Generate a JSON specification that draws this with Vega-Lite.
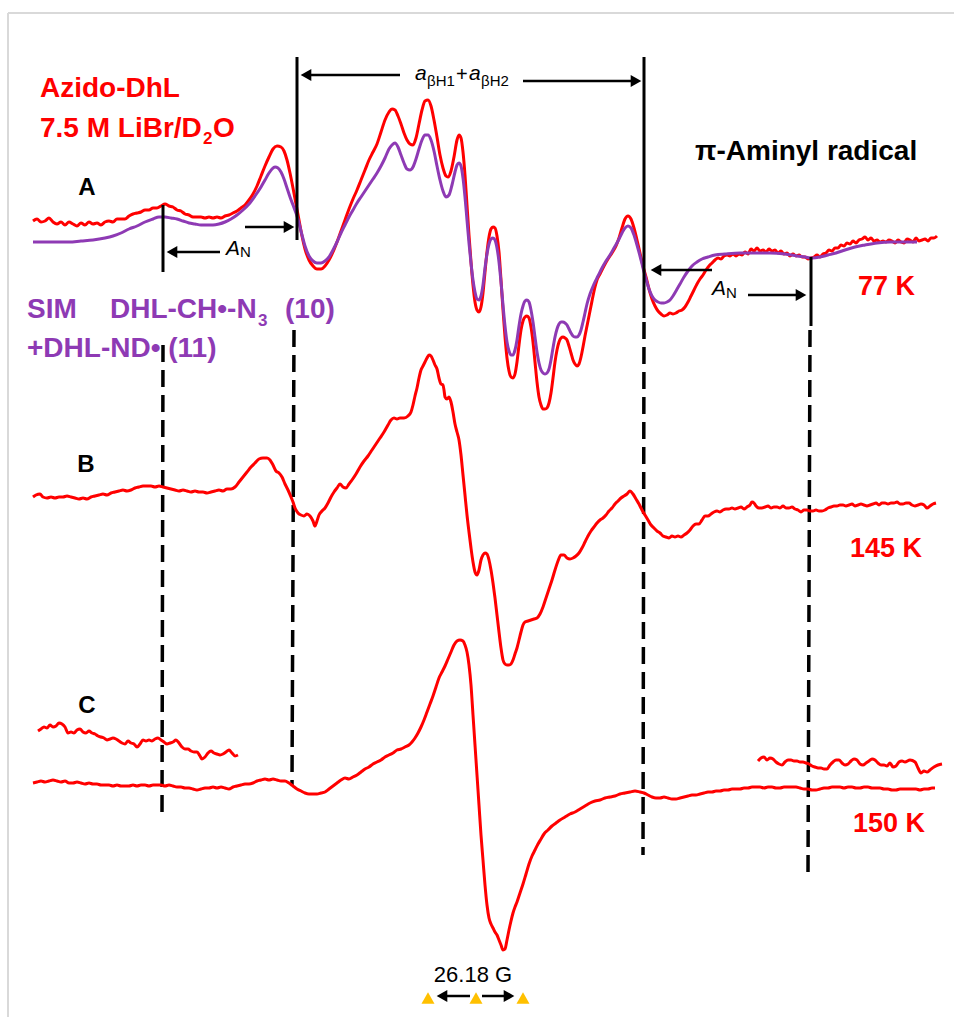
{
"$schema": "https://vega.github.io/schema/vega-lite/v6.json",
"width": 954, "height": 1017, "padding": 0,
"autosize": {"type": "none"},
"background": "white",
"config": {"view": {"stroke": null}},
"datasets": {
"frame": [{"x":8,"x2":954,"y":13,"y2":13},{"x":8,"x2":8,"y":13,"y2":1017}],
"curves": [
{"s":"A","x":33,"y":221},{"s":"A","x":37,"y":219},{"s":"A","x":41,"y":222},{"s":"A","x":45,"y":221},{"s":"A","x":49,"y":218},{"s":"A","x":53,"y":222},{"s":"A","x":57,"y":224},{"s":"A","x":61,"y":222},{"s":"A","x":65,"y":225},{"s":"A","x":69,"y":222},{"s":"A","x":73,"y":224},{"s":"A","x":77,"y":226},{"s":"A","x":81,"y":223},{"s":"A","x":85,"y":225},{"s":"A","x":89,"y":222},{"s":"A","x":93,"y":224},{"s":"A","x":97,"y":223},{"s":"A","x":101,"y":225},{"s":"A","x":105,"y":222},{"s":"A","x":109,"y":221},{"s":"A","x":113,"y":222},{"s":"A","x":117,"y":219},{"s":"A","x":121,"y":219},{"s":"A","x":125,"y":219},{"s":"A","x":129,"y":216},{"s":"A","x":133,"y":214},{"s":"A","x":137,"y":213},{"s":"A","x":141,"y":212},{"s":"A","x":145,"y":210},{"s":"A","x":149,"y":210},{"s":"A","x":153,"y":208},{"s":"A","x":157,"y":208},{"s":"A","x":161,"y":206},{"s":"A","x":165,"y":204},{"s":"A","x":169,"y":206},{"s":"A","x":173,"y":207},{"s":"A","x":177,"y":210},{"s":"A","x":181,"y":211},{"s":"A","x":185,"y":214},{"s":"A","x":189,"y":215},{"s":"A","x":193,"y":217},{"s":"A","x":197,"y":217},{"s":"A","x":201,"y":217},{"s":"A","x":205,"y":218},{"s":"A","x":209,"y":217},{"s":"A","x":213,"y":218},{"s":"A","x":217,"y":217},{"s":"A","x":221,"y":218},{"s":"A","x":225,"y":216},{"s":"A","x":229,"y":215},{"s":"A","x":233,"y":213},{"s":"A","x":237,"y":211},{"s":"A","x":241,"y":208},{"s":"A","x":245,"y":205},{"s":"A","x":249,"y":200},{"s":"A","x":253,"y":194},{"s":"A","x":257,"y":186},{"s":"A","x":261,"y":176},{"s":"A","x":265,"y":166},{"s":"A","x":269,"y":157},{"s":"A","x":273,"y":149},{"s":"A","x":277,"y":146},{"s":"A","x":281,"y":147},{"s":"A","x":284,"y":151},{"s":"A","x":287,"y":160},{"s":"A","x":290,"y":173},{"s":"A","x":293,"y":188},{"s":"A","x":296,"y":204},{"s":"A","x":299,"y":220},{"s":"A","x":302,"y":236},{"s":"A","x":305,"y":249},{"s":"A","x":309,"y":260},{"s":"A","x":313,"y":266},{"s":"A","x":317,"y":269},{"s":"A","x":321,"y":269},{"s":"A","x":325,"y":266},{"s":"A","x":329,"y":260},{"s":"A","x":333,"y":252},{"s":"A","x":337,"y":242},{"s":"A","x":341,"y":231},{"s":"A","x":345,"y":220},{"s":"A","x":349,"y":209},{"s":"A","x":353,"y":199},{"s":"A","x":357,"y":190},{"s":"A","x":361,"y":180},{"s":"A","x":365,"y":170},{"s":"A","x":369,"y":160},{"s":"A","x":373,"y":152},{"s":"A","x":377,"y":144},{"s":"A","x":381,"y":132},{"s":"A","x":385,"y":120},{"s":"A","x":389,"y":112},{"s":"A","x":392,"y":109},{"s":"A","x":395,"y":110},{"s":"A","x":398,"y":116},{"s":"A","x":401,"y":124},{"s":"A","x":404,"y":133},{"s":"A","x":407,"y":140},{"s":"A","x":410,"y":144},{"s":"A","x":413,"y":145},{"s":"A","x":416,"y":138},{"s":"A","x":419,"y":124},{"s":"A","x":422,"y":110},{"s":"A","x":425,"y":101},{"s":"A","x":428,"y":100},{"s":"A","x":431,"y":106},{"s":"A","x":434,"y":120},{"s":"A","x":437,"y":137},{"s":"A","x":440,"y":155},{"s":"A","x":443,"y":168},{"s":"A","x":446,"y":176},{"s":"A","x":448,"y":177},{"s":"A","x":451,"y":171},{"s":"A","x":454,"y":157},{"s":"A","x":457,"y":140},{"s":"A","x":459,"y":135},{"s":"A","x":461,"y":138},{"s":"A","x":463,"y":152},{"s":"A","x":465,"y":175},{"s":"A","x":467,"y":205},{"s":"A","x":469,"y":235},{"s":"A","x":471,"y":262},{"s":"A","x":473,"y":285},{"s":"A","x":475,"y":302},{"s":"A","x":477,"y":310},{"s":"A","x":479,"y":312},{"s":"A","x":481,"y":307},{"s":"A","x":483,"y":293},{"s":"A","x":485,"y":272},{"s":"A","x":487,"y":252},{"s":"A","x":489,"y":237},{"s":"A","x":491,"y":229},{"s":"A","x":493,"y":227},{"s":"A","x":495,"y":228},{"s":"A","x":497,"y":236},{"s":"A","x":499,"y":252},{"s":"A","x":501,"y":280},{"s":"A","x":503,"y":310},{"s":"A","x":505,"y":337},{"s":"A","x":507,"y":358},{"s":"A","x":509,"y":371},{"s":"A","x":511,"y":377},{"s":"A","x":513,"y":378},{"s":"A","x":515,"y":374},{"s":"A","x":517,"y":362},{"s":"A","x":519,"y":345},{"s":"A","x":521,"y":330},{"s":"A","x":523,"y":321},{"s":"A","x":525,"y":317},{"s":"A","x":527,"y":316},{"s":"A","x":529,"y":318},{"s":"A","x":531,"y":327},{"s":"A","x":533,"y":342},{"s":"A","x":535,"y":362},{"s":"A","x":537,"y":382},{"s":"A","x":539,"y":397},{"s":"A","x":541,"y":405},{"s":"A","x":543,"y":409},{"s":"A","x":545,"y":409},{"s":"A","x":547,"y":408},{"s":"A","x":549,"y":403},{"s":"A","x":551,"y":393},{"s":"A","x":553,"y":378},{"s":"A","x":555,"y":362},{"s":"A","x":557,"y":350},{"s":"A","x":559,"y":342},{"s":"A","x":561,"y":338},{"s":"A","x":563,"y":337},{"s":"A","x":565,"y":338},{"s":"A","x":567,"y":340},{"s":"A","x":569,"y":346},{"s":"A","x":571,"y":353},{"s":"A","x":573,"y":360},{"s":"A","x":575,"y":364},{"s":"A","x":577,"y":366},{"s":"A","x":579,"y":364},{"s":"A","x":581,"y":357},{"s":"A","x":583,"y":347},{"s":"A","x":585,"y":336},{"s":"A","x":587,"y":326},{"s":"A","x":589,"y":316},{"s":"A","x":591,"y":306},{"s":"A","x":593,"y":296},{"s":"A","x":595,"y":287},{"s":"A","x":597,"y":280},{"s":"A","x":600,"y":274},{"s":"A","x":604,"y":266},{"s":"A","x":608,"y":259},{"s":"A","x":612,"y":253},{"s":"A","x":616,"y":246},{"s":"A","x":619,"y":238},{"s":"A","x":622,"y":228},{"s":"A","x":625,"y":219},{"s":"A","x":628,"y":216},{"s":"A","x":631,"y":219},{"s":"A","x":634,"y":228},{"s":"A","x":637,"y":240},{"s":"A","x":640,"y":253},{"s":"A","x":643,"y":266},{"s":"A","x":646,"y":277},{"s":"A","x":649,"y":289},{"s":"A","x":652,"y":299},{"s":"A","x":655,"y":306},{"s":"A","x":658,"y":311},{"s":"A","x":661,"y":314},{"s":"A","x":664,"y":316},{"s":"A","x":667,"y":315},{"s":"A","x":670,"y":313},{"s":"A","x":673,"y":314},{"s":"A","x":676,"y":313},{"s":"A","x":679,"y":311},{"s":"A","x":682,"y":310},{"s":"A","x":685,"y":307},{"s":"A","x":688,"y":302},{"s":"A","x":691,"y":296},{"s":"A","x":694,"y":290},{"s":"A","x":697,"y":284},{"s":"A","x":700,"y":279},{"s":"A","x":703,"y":275},{"s":"A","x":706,"y":270},{"s":"A","x":709,"y":266},{"s":"A","x":712,"y":263},{"s":"A","x":715,"y":260},{"s":"A","x":718,"y":258},{"s":"A","x":721,"y":259},{"s":"A","x":724,"y":256},{"s":"A","x":727,"y":255},{"s":"A","x":730,"y":256},{"s":"A","x":733,"y":254},{"s":"A","x":736,"y":256},{"s":"A","x":739,"y":254},{"s":"A","x":742,"y":255},{"s":"A","x":745,"y":252},{"s":"A","x":748,"y":254},{"s":"A","x":751,"y":249},{"s":"A","x":754,"y":251},{"s":"A","x":757,"y":248},{"s":"A","x":760,"y":251},{"s":"A","x":763,"y":250},{"s":"A","x":766,"y":252},{"s":"A","x":769,"y":249},{"s":"A","x":772,"y":251},{"s":"A","x":775,"y":250},{"s":"A","x":778,"y":253},{"s":"A","x":781,"y":251},{"s":"A","x":784,"y":254},{"s":"A","x":787,"y":253},{"s":"A","x":790,"y":256},{"s":"A","x":793,"y":254},{"s":"A","x":796,"y":256},{"s":"A","x":799,"y":255},{"s":"A","x":802,"y":257},{"s":"A","x":805,"y":257},{"s":"A","x":808,"y":259},{"s":"A","x":811,"y":258},{"s":"A","x":814,"y":257},{"s":"A","x":817,"y":255},{"s":"A","x":820,"y":257},{"s":"A","x":823,"y":254},{"s":"A","x":826,"y":253},{"s":"A","x":829,"y":250},{"s":"A","x":832,"y":251},{"s":"A","x":835,"y":248},{"s":"A","x":838,"y":248},{"s":"A","x":841,"y":245},{"s":"A","x":844,"y":246},{"s":"A","x":847,"y":243},{"s":"A","x":850,"y":244},{"s":"A","x":853,"y":241},{"s":"A","x":856,"y":243},{"s":"A","x":859,"y":240},{"s":"A","x":862,"y":239},{"s":"A","x":865,"y":237},{"s":"A","x":868,"y":240},{"s":"A","x":871,"y":238},{"s":"A","x":874,"y":241},{"s":"A","x":877,"y":240},{"s":"A","x":880,"y":242},{"s":"A","x":883,"y":241},{"s":"A","x":886,"y":242},{"s":"A","x":889,"y":240},{"s":"A","x":892,"y":241},{"s":"A","x":895,"y":243},{"s":"A","x":898,"y":240},{"s":"A","x":901,"y":242},{"s":"A","x":904,"y":243},{"s":"A","x":907,"y":239},{"s":"A","x":910,"y":240},{"s":"A","x":913,"y":242},{"s":"A","x":916,"y":238},{"s":"A","x":919,"y":241},{"s":"A","x":922,"y":240},{"s":"A","x":925,"y":239},{"s":"A","x":928,"y":241},{"s":"A","x":931,"y":238},{"s":"A","x":934,"y":238},{"s":"A","x":937,"y":236},
{"s":"B","x":33,"y":497},{"s":"B","x":36,"y":495},{"s":"B","x":40,"y":494},{"s":"B","x":43,"y":497},{"s":"B","x":47,"y":498},{"s":"B","x":51,"y":497},{"s":"B","x":55,"y":498},{"s":"B","x":59,"y":497},{"s":"B","x":63,"y":497},{"s":"B","x":67,"y":496},{"s":"B","x":71,"y":497},{"s":"B","x":75,"y":498},{"s":"B","x":79,"y":499},{"s":"B","x":83,"y":498},{"s":"B","x":87,"y":499},{"s":"B","x":91,"y":497},{"s":"B","x":95,"y":496},{"s":"B","x":99,"y":495},{"s":"B","x":103,"y":494},{"s":"B","x":107,"y":495},{"s":"B","x":111,"y":493},{"s":"B","x":115,"y":492},{"s":"B","x":119,"y":491},{"s":"B","x":123,"y":490},{"s":"B","x":127,"y":491},{"s":"B","x":131,"y":490},{"s":"B","x":135,"y":488},{"s":"B","x":139,"y":487},{"s":"B","x":143,"y":486},{"s":"B","x":147,"y":486},{"s":"B","x":151,"y":486},{"s":"B","x":155,"y":487},{"s":"B","x":159,"y":486},{"s":"B","x":163,"y":487},{"s":"B","x":167,"y":488},{"s":"B","x":171,"y":489},{"s":"B","x":175,"y":490},{"s":"B","x":179,"y":491},{"s":"B","x":183,"y":490},{"s":"B","x":187,"y":491},{"s":"B","x":191,"y":492},{"s":"B","x":195,"y":491},{"s":"B","x":199,"y":492},{"s":"B","x":203,"y":492},{"s":"B","x":207,"y":493},{"s":"B","x":211,"y":492},{"s":"B","x":215,"y":491},{"s":"B","x":219,"y":490},{"s":"B","x":223,"y":491},{"s":"B","x":227,"y":489},{"s":"B","x":231,"y":489},{"s":"B","x":235,"y":487},{"s":"B","x":239,"y":482},{"s":"B","x":243,"y":477},{"s":"B","x":247,"y":472},{"s":"B","x":251,"y":467},{"s":"B","x":255,"y":463},{"s":"B","x":259,"y":459},{"s":"B","x":263,"y":458},{"s":"B","x":267,"y":458},{"s":"B","x":270,"y":460},{"s":"B","x":273,"y":465},{"s":"B","x":276,"y":471},{"s":"B","x":279,"y":473},{"s":"B","x":282,"y":477},{"s":"B","x":285,"y":484},{"s":"B","x":288,"y":490},{"s":"B","x":291,"y":497},{"s":"B","x":293,"y":502},{"s":"B","x":295,"y":508},{"s":"B","x":298,"y":513},{"s":"B","x":301,"y":515},{"s":"B","x":304,"y":516},{"s":"B","x":307,"y":514},{"s":"B","x":310,"y":516},{"s":"B","x":313,"y":521},{"s":"B","x":315,"y":526},{"s":"B","x":317,"y":521},{"s":"B","x":319,"y":515},{"s":"B","x":322,"y":511},{"s":"B","x":325,"y":508},{"s":"B","x":328,"y":503},{"s":"B","x":331,"y":497},{"s":"B","x":334,"y":492},{"s":"B","x":337,"y":488},{"s":"B","x":340,"y":484},{"s":"B","x":343,"y":487},{"s":"B","x":346,"y":488},{"s":"B","x":349,"y":484},{"s":"B","x":352,"y":480},{"s":"B","x":356,"y":474},{"s":"B","x":360,"y":467},{"s":"B","x":364,"y":461},{"s":"B","x":368,"y":456},{"s":"B","x":372,"y":450},{"s":"B","x":376,"y":444},{"s":"B","x":380,"y":438},{"s":"B","x":384,"y":432},{"s":"B","x":388,"y":425},{"s":"B","x":391,"y":420},{"s":"B","x":394,"y":418},{"s":"B","x":397,"y":419},{"s":"B","x":400,"y":418},{"s":"B","x":404,"y":418},{"s":"B","x":408,"y":416},{"s":"B","x":411,"y":412},{"s":"B","x":413,"y":405},{"s":"B","x":415,"y":396},{"s":"B","x":417,"y":388},{"s":"B","x":419,"y":378},{"s":"B","x":421,"y":370},{"s":"B","x":423,"y":366},{"s":"B","x":425,"y":362},{"s":"B","x":427,"y":358},{"s":"B","x":429,"y":355},{"s":"B","x":431,"y":356},{"s":"B","x":433,"y":360},{"s":"B","x":435,"y":365},{"s":"B","x":437,"y":369},{"s":"B","x":439,"y":378},{"s":"B","x":441,"y":384},{"s":"B","x":443,"y":385},{"s":"B","x":444,"y":390},{"s":"B","x":445,"y":397},{"s":"B","x":447,"y":399},{"s":"B","x":449,"y":397},{"s":"B","x":451,"y":402},{"s":"B","x":453,"y":412},{"s":"B","x":455,"y":424},{"s":"B","x":457,"y":432},{"s":"B","x":459,"y":440},{"s":"B","x":461,"y":455},{"s":"B","x":463,"y":475},{"s":"B","x":465,"y":495},{"s":"B","x":467,"y":515},{"s":"B","x":469,"y":532},{"s":"B","x":471,"y":548},{"s":"B","x":473,"y":562},{"s":"B","x":475,"y":572},{"s":"B","x":477,"y":575},{"s":"B","x":479,"y":570},{"s":"B","x":481,"y":560},{"s":"B","x":483,"y":555},{"s":"B","x":485,"y":553},{"s":"B","x":487,"y":554},{"s":"B","x":489,"y":560},{"s":"B","x":491,"y":570},{"s":"B","x":493,"y":583},{"s":"B","x":495,"y":598},{"s":"B","x":497,"y":615},{"s":"B","x":499,"y":632},{"s":"B","x":501,"y":648},{"s":"B","x":503,"y":660},{"s":"B","x":505,"y":664},{"s":"B","x":507,"y":665},{"s":"B","x":509,"y":665},{"s":"B","x":511,"y":664},{"s":"B","x":513,"y":660},{"s":"B","x":515,"y":654},{"s":"B","x":517,"y":648},{"s":"B","x":519,"y":640},{"s":"B","x":521,"y":632},{"s":"B","x":523,"y":625},{"s":"B","x":525,"y":622},{"s":"B","x":528,"y":621},{"s":"B","x":531,"y":620},{"s":"B","x":534,"y":619},{"s":"B","x":537,"y":618},{"s":"B","x":540,"y":614},{"s":"B","x":543,"y":607},{"s":"B","x":546,"y":598},{"s":"B","x":549,"y":589},{"s":"B","x":552,"y":580},{"s":"B","x":555,"y":570},{"s":"B","x":558,"y":561},{"s":"B","x":561,"y":555},{"s":"B","x":564,"y":555},{"s":"B","x":567,"y":558},{"s":"B","x":570,"y":559},{"s":"B","x":573,"y":558},{"s":"B","x":576,"y":556},{"s":"B","x":579,"y":553},{"s":"B","x":582,"y":548},{"s":"B","x":585,"y":542},{"s":"B","x":588,"y":536},{"s":"B","x":591,"y":531},{"s":"B","x":594,"y":527},{"s":"B","x":597,"y":523},{"s":"B","x":600,"y":520},{"s":"B","x":603,"y":518},{"s":"B","x":606,"y":515},{"s":"B","x":609,"y":511},{"s":"B","x":612,"y":508},{"s":"B","x":615,"y":504},{"s":"B","x":618,"y":501},{"s":"B","x":621,"y":498},{"s":"B","x":624,"y":496},{"s":"B","x":627,"y":494},{"s":"B","x":630,"y":491},{"s":"B","x":633,"y":494},{"s":"B","x":636,"y":499},{"s":"B","x":639,"y":504},{"s":"B","x":642,"y":510},{"s":"B","x":645,"y":515},{"s":"B","x":648,"y":520},{"s":"B","x":651,"y":525},{"s":"B","x":654,"y":528},{"s":"B","x":657,"y":531},{"s":"B","x":660,"y":533},{"s":"B","x":663,"y":536},{"s":"B","x":666,"y":537},{"s":"B","x":669,"y":538},{"s":"B","x":672,"y":536},{"s":"B","x":675,"y":537},{"s":"B","x":678,"y":536},{"s":"B","x":681,"y":537},{"s":"B","x":684,"y":535},{"s":"B","x":687,"y":533},{"s":"B","x":690,"y":530},{"s":"B","x":693,"y":526},{"s":"B","x":696,"y":524},{"s":"B","x":699,"y":524},{"s":"B","x":702,"y":520},{"s":"B","x":705,"y":516},{"s":"B","x":708,"y":516},{"s":"B","x":711,"y":514},{"s":"B","x":714,"y":512},{"s":"B","x":717,"y":511},{"s":"B","x":720,"y":512},{"s":"B","x":723,"y":510},{"s":"B","x":726,"y":509},{"s":"B","x":729,"y":509},{"s":"B","x":732,"y":508},{"s":"B","x":735,"y":509},{"s":"B","x":738,"y":508},{"s":"B","x":741,"y":507},{"s":"B","x":744,"y":509},{"s":"B","x":747,"y":507},{"s":"B","x":750,"y":505},{"s":"B","x":752,"y":502},{"s":"B","x":754,"y":503},{"s":"B","x":756,"y":506},{"s":"B","x":759,"y":508},{"s":"B","x":762,"y":508},{"s":"B","x":765,"y":507},{"s":"B","x":768,"y":506},{"s":"B","x":771,"y":508},{"s":"B","x":774,"y":507},{"s":"B","x":777,"y":507},{"s":"B","x":780,"y":508},{"s":"B","x":783,"y":506},{"s":"B","x":786,"y":508},{"s":"B","x":789,"y":508},{"s":"B","x":792,"y":507},{"s":"B","x":795,"y":509},{"s":"B","x":798,"y":510},{"s":"B","x":801,"y":512},{"s":"B","x":804,"y":510},{"s":"B","x":807,"y":510},{"s":"B","x":810,"y":511},{"s":"B","x":813,"y":511},{"s":"B","x":816,"y":510},{"s":"B","x":819,"y":511},{"s":"B","x":822,"y":511},{"s":"B","x":825,"y":510},{"s":"B","x":828,"y":508},{"s":"B","x":831,"y":507},{"s":"B","x":834,"y":506},{"s":"B","x":837,"y":506},{"s":"B","x":840,"y":505},{"s":"B","x":843,"y":505},{"s":"B","x":846,"y":506},{"s":"B","x":849,"y":505},{"s":"B","x":852,"y":504},{"s":"B","x":855,"y":506},{"s":"B","x":858,"y":505},{"s":"B","x":861,"y":504},{"s":"B","x":864,"y":505},{"s":"B","x":867,"y":506},{"s":"B","x":870,"y":505},{"s":"B","x":873,"y":504},{"s":"B","x":876,"y":503},{"s":"B","x":879,"y":505},{"s":"B","x":882,"y":503},{"s":"B","x":885,"y":503},{"s":"B","x":888,"y":504},{"s":"B","x":891,"y":503},{"s":"B","x":894,"y":503},{"s":"B","x":897,"y":502},{"s":"B","x":900,"y":504},{"s":"B","x":903,"y":504},{"s":"B","x":906,"y":503},{"s":"B","x":909,"y":503},{"s":"B","x":912,"y":505},{"s":"B","x":915,"y":506},{"s":"B","x":918,"y":505},{"s":"B","x":921,"y":504},{"s":"B","x":924,"y":505},{"s":"B","x":927,"y":508},{"s":"B","x":930,"y":506},{"s":"B","x":933,"y":504},{"s":"B","x":936,"y":503},
{"s":"C","x":33,"y":783},{"s":"C","x":37,"y":782},{"s":"C","x":41,"y":781},{"s":"C","x":45,"y":782},{"s":"C","x":49,"y":781},{"s":"C","x":53,"y":780},{"s":"C","x":57,"y":781},{"s":"C","x":61,"y":782},{"s":"C","x":65,"y":781},{"s":"C","x":69,"y":783},{"s":"C","x":73,"y":783},{"s":"C","x":77,"y":782},{"s":"C","x":81,"y":783},{"s":"C","x":85,"y":784},{"s":"C","x":89,"y":783},{"s":"C","x":93,"y":784},{"s":"C","x":97,"y":784},{"s":"C","x":101,"y":785},{"s":"C","x":105,"y":785},{"s":"C","x":109,"y":785},{"s":"C","x":113,"y":786},{"s":"C","x":117,"y":785},{"s":"C","x":121,"y":786},{"s":"C","x":125,"y":786},{"s":"C","x":129,"y":786},{"s":"C","x":133,"y":785},{"s":"C","x":137,"y":786},{"s":"C","x":141,"y":785},{"s":"C","x":145,"y":785},{"s":"C","x":149,"y":786},{"s":"C","x":153,"y":785},{"s":"C","x":157,"y":785},{"s":"C","x":161,"y":785},{"s":"C","x":165,"y":786},{"s":"C","x":169,"y":785},{"s":"C","x":173,"y":786},{"s":"C","x":177,"y":787},{"s":"C","x":181,"y":787},{"s":"C","x":185,"y":788},{"s":"C","x":189,"y":788},{"s":"C","x":193,"y":789},{"s":"C","x":197,"y":790},{"s":"C","x":201,"y":789},{"s":"C","x":205,"y":788},{"s":"C","x":209,"y":788},{"s":"C","x":213,"y":787},{"s":"C","x":217,"y":788},{"s":"C","x":221,"y":787},{"s":"C","x":225,"y":788},{"s":"C","x":229,"y":789},{"s":"C","x":233,"y":787},{"s":"C","x":237,"y":786},{"s":"C","x":241,"y":785},{"s":"C","x":245,"y":784},{"s":"C","x":249,"y":784},{"s":"C","x":253,"y":783},{"s":"C","x":257,"y":781},{"s":"C","x":261,"y":780},{"s":"C","x":265,"y":779},{"s":"C","x":269,"y":780},{"s":"C","x":273,"y":779},{"s":"C","x":277,"y":780},{"s":"C","x":281,"y":781},{"s":"C","x":285,"y":781},{"s":"C","x":289,"y":783},{"s":"C","x":293,"y":786},{"s":"C","x":297,"y":789},{"s":"C","x":301,"y":791},{"s":"C","x":305,"y":793},{"s":"C","x":309,"y":794},{"s":"C","x":313,"y":794},{"s":"C","x":317,"y":794},{"s":"C","x":321,"y":793},{"s":"C","x":325,"y":792},{"s":"C","x":329,"y":789},{"s":"C","x":333,"y":786},{"s":"C","x":337,"y":783},{"s":"C","x":341,"y":780},{"s":"C","x":345,"y":778},{"s":"C","x":349,"y":779},{"s":"C","x":353,"y":777},{"s":"C","x":357,"y":775},{"s":"C","x":361,"y":772},{"s":"C","x":365,"y":769},{"s":"C","x":369,"y":767},{"s":"C","x":373,"y":764},{"s":"C","x":377,"y":762},{"s":"C","x":381,"y":760},{"s":"C","x":385,"y":757},{"s":"C","x":389,"y":755},{"s":"C","x":393,"y":753},{"s":"C","x":397,"y":750},{"s":"C","x":401,"y":749},{"s":"C","x":405,"y":747},{"s":"C","x":409,"y":745},{"s":"C","x":412,"y":742},{"s":"C","x":415,"y":738},{"s":"C","x":418,"y":733},{"s":"C","x":421,"y":727},{"s":"C","x":424,"y":720},{"s":"C","x":427,"y":712},{"s":"C","x":430,"y":704},{"s":"C","x":433,"y":696},{"s":"C","x":436,"y":687},{"s":"C","x":439,"y":678},{"s":"C","x":442,"y":672},{"s":"C","x":445,"y":666},{"s":"C","x":448,"y":659},{"s":"C","x":451,"y":652},{"s":"C","x":454,"y":645},{"s":"C","x":457,"y":641},{"s":"C","x":460,"y":640},{"s":"C","x":463,"y":641},{"s":"C","x":465,"y":645},{"s":"C","x":467,"y":652},{"s":"C","x":469,"y":665},{"s":"C","x":471,"y":685},{"s":"C","x":473,"y":715},{"s":"C","x":475,"y":745},{"s":"C","x":477,"y":775},{"s":"C","x":479,"y":805},{"s":"C","x":481,"y":835},{"s":"C","x":483,"y":860},{"s":"C","x":485,"y":885},{"s":"C","x":487,"y":905},{"s":"C","x":489,"y":918},{"s":"C","x":491,"y":924},{"s":"C","x":493,"y":928},{"s":"C","x":495,"y":932},{"s":"C","x":497,"y":935},{"s":"C","x":499,"y":940},{"s":"C","x":501,"y":945},{"s":"C","x":503,"y":950},{"s":"C","x":505,"y":949},{"s":"C","x":507,"y":940},{"s":"C","x":509,"y":930},{"s":"C","x":511,"y":921},{"s":"C","x":513,"y":913},{"s":"C","x":515,"y":907},{"s":"C","x":517,"y":902},{"s":"C","x":520,"y":893},{"s":"C","x":523,"y":884},{"s":"C","x":526,"y":874},{"s":"C","x":529,"y":864},{"s":"C","x":532,"y":856},{"s":"C","x":535,"y":850},{"s":"C","x":538,"y":844},{"s":"C","x":541,"y":839},{"s":"C","x":544,"y":834},{"s":"C","x":548,"y":830},{"s":"C","x":552,"y":826},{"s":"C","x":556,"y":823},{"s":"C","x":560,"y":820},{"s":"C","x":565,"y":817},{"s":"C","x":570,"y":814},{"s":"C","x":575,"y":812},{"s":"C","x":580,"y":809},{"s":"C","x":585,"y":806},{"s":"C","x":590,"y":803},{"s":"C","x":595,"y":801},{"s":"C","x":600,"y":800},{"s":"C","x":605,"y":798},{"s":"C","x":610,"y":797},{"s":"C","x":615,"y":796},{"s":"C","x":620,"y":794},{"s":"C","x":625,"y":793},{"s":"C","x":630,"y":792},{"s":"C","x":635,"y":791},{"s":"C","x":640,"y":792},{"s":"C","x":644,"y":793},{"s":"C","x":648,"y":795},{"s":"C","x":652,"y":797},{"s":"C","x":656,"y":798},{"s":"C","x":660,"y":798},{"s":"C","x":664,"y":797},{"s":"C","x":668,"y":798},{"s":"C","x":672,"y":799},{"s":"C","x":676,"y":799},{"s":"C","x":680,"y":798},{"s":"C","x":684,"y":797},{"s":"C","x":688,"y":796},{"s":"C","x":692,"y":795},{"s":"C","x":696,"y":795},{"s":"C","x":700,"y":794},{"s":"C","x":704,"y":793},{"s":"C","x":708,"y":792},{"s":"C","x":712,"y":792},{"s":"C","x":716,"y":791},{"s":"C","x":720,"y":791},{"s":"C","x":724,"y":790},{"s":"C","x":728,"y":790},{"s":"C","x":732,"y":789},{"s":"C","x":736,"y":789},{"s":"C","x":740,"y":789},{"s":"C","x":744,"y":788},{"s":"C","x":748,"y":788},{"s":"C","x":752,"y":787},{"s":"C","x":756,"y":787},{"s":"C","x":760,"y":787},{"s":"C","x":764,"y":788},{"s":"C","x":768,"y":787},{"s":"C","x":772,"y":787},{"s":"C","x":776,"y":788},{"s":"C","x":780,"y":788},{"s":"C","x":784,"y":787},{"s":"C","x":788,"y":787},{"s":"C","x":792,"y":787},{"s":"C","x":796,"y":787},{"s":"C","x":800,"y":788},{"s":"C","x":804,"y":789},{"s":"C","x":808,"y":789},{"s":"C","x":812,"y":790},{"s":"C","x":816,"y":790},{"s":"C","x":820,"y":789},{"s":"C","x":824,"y":788},{"s":"C","x":828,"y":788},{"s":"C","x":832,"y":787},{"s":"C","x":836,"y":787},{"s":"C","x":840,"y":787},{"s":"C","x":844,"y":788},{"s":"C","x":848,"y":787},{"s":"C","x":852,"y":787},{"s":"C","x":856,"y":788},{"s":"C","x":860,"y":788},{"s":"C","x":864,"y":787},{"s":"C","x":868,"y":787},{"s":"C","x":872,"y":788},{"s":"C","x":876,"y":788},{"s":"C","x":880,"y":788},{"s":"C","x":884,"y":789},{"s":"C","x":888,"y":789},{"s":"C","x":892,"y":790},{"s":"C","x":896,"y":790},{"s":"C","x":900,"y":789},{"s":"C","x":904,"y":789},{"s":"C","x":908,"y":789},{"s":"C","x":912,"y":789},{"s":"C","x":916,"y":789},{"s":"C","x":920,"y":790},{"s":"C","x":924,"y":789},{"s":"C","x":928,"y":789},{"s":"C","x":932,"y":788},{"s":"C","x":935,"y":788},
{"s":"CL","x":38,"y":731},{"s":"CL","x":41,"y":729},{"s":"CL","x":44,"y":727},{"s":"CL","x":47,"y":728},{"s":"CL","x":50,"y":725},{"s":"CL","x":53,"y":727},{"s":"CL","x":56,"y":726},{"s":"CL","x":59,"y":723},{"s":"CL","x":62,"y":724},{"s":"CL","x":65,"y":727},{"s":"CL","x":68,"y":733},{"s":"CL","x":71,"y":732},{"s":"CL","x":74,"y":733},{"s":"CL","x":77,"y":730},{"s":"CL","x":80,"y":729},{"s":"CL","x":83,"y":732},{"s":"CL","x":86,"y":733},{"s":"CL","x":89,"y":731},{"s":"CL","x":92,"y":733},{"s":"CL","x":95,"y":734},{"s":"CL","x":98,"y":736},{"s":"CL","x":101,"y":737},{"s":"CL","x":104,"y":738},{"s":"CL","x":107,"y":740},{"s":"CL","x":110,"y":739},{"s":"CL","x":113,"y":738},{"s":"CL","x":116,"y":739},{"s":"CL","x":119,"y":741},{"s":"CL","x":122,"y":743},{"s":"CL","x":125,"y":744},{"s":"CL","x":128,"y":741},{"s":"CL","x":131,"y":743},{"s":"CL","x":134,"y":744},{"s":"CL","x":137,"y":747},{"s":"CL","x":140,"y":744},{"s":"CL","x":143,"y":740},{"s":"CL","x":146,"y":741},{"s":"CL","x":149,"y":740},{"s":"CL","x":152,"y":741},{"s":"CL","x":155,"y":739},{"s":"CL","x":158,"y":738},{"s":"CL","x":161,"y":740},{"s":"CL","x":164,"y":742},{"s":"CL","x":167,"y":744},{"s":"CL","x":170,"y":743},{"s":"CL","x":173,"y":742},{"s":"CL","x":176,"y":740},{"s":"CL","x":179,"y":743},{"s":"CL","x":182,"y":747},{"s":"CL","x":185,"y":749},{"s":"CL","x":188,"y":749},{"s":"CL","x":191,"y":751},{"s":"CL","x":194,"y":752},{"s":"CL","x":197,"y":752},{"s":"CL","x":200,"y":756},{"s":"CL","x":202,"y":759},{"s":"CL","x":205,"y":757},{"s":"CL","x":208,"y":753},{"s":"CL","x":211,"y":751},{"s":"CL","x":214,"y":753},{"s":"CL","x":217,"y":754},{"s":"CL","x":220,"y":755},{"s":"CL","x":223,"y":754},{"s":"CL","x":226,"y":752},{"s":"CL","x":229,"y":750},{"s":"CL","x":232,"y":753},{"s":"CL","x":235,"y":756},{"s":"CL","x":238,"y":755},
{"s":"CR","x":758,"y":761},{"s":"CR","x":761,"y":758},{"s":"CR","x":764,"y":757},{"s":"CR","x":767,"y":760},{"s":"CR","x":770,"y":758},{"s":"CR","x":773,"y":759},{"s":"CR","x":776,"y":762},{"s":"CR","x":779,"y":764},{"s":"CR","x":782,"y":765},{"s":"CR","x":785,"y":762},{"s":"CR","x":788,"y":760},{"s":"CR","x":791,"y":760},{"s":"CR","x":794,"y":761},{"s":"CR","x":797,"y":761},{"s":"CR","x":800,"y":762},{"s":"CR","x":803,"y":762},{"s":"CR","x":806,"y":763},{"s":"CR","x":809,"y":764},{"s":"CR","x":812,"y":766},{"s":"CR","x":815,"y":767},{"s":"CR","x":818,"y":768},{"s":"CR","x":821,"y":768},{"s":"CR","x":824,"y":769},{"s":"CR","x":827,"y":769},{"s":"CR","x":830,"y":765},{"s":"CR","x":833,"y":762},{"s":"CR","x":836,"y":760},{"s":"CR","x":839,"y":760},{"s":"CR","x":842,"y":763},{"s":"CR","x":845,"y":765},{"s":"CR","x":848,"y":764},{"s":"CR","x":851,"y":761},{"s":"CR","x":854,"y":759},{"s":"CR","x":857,"y":760},{"s":"CR","x":860,"y":764},{"s":"CR","x":863,"y":765},{"s":"CR","x":866,"y":763},{"s":"CR","x":869,"y":761},{"s":"CR","x":872,"y":759},{"s":"CR","x":875,"y":760},{"s":"CR","x":878,"y":763},{"s":"CR","x":881,"y":765},{"s":"CR","x":884,"y":765},{"s":"CR","x":887,"y":766},{"s":"CR","x":890,"y":763},{"s":"CR","x":893,"y":767},{"s":"CR","x":896,"y":766},{"s":"CR","x":899,"y":762},{"s":"CR","x":902,"y":761},{"s":"CR","x":905,"y":762},{"s":"CR","x":910,"y":760},{"s":"CR","x":915,"y":762},{"s":"CR","x":918,"y":768},{"s":"CR","x":921,"y":773},{"s":"CR","x":924,"y":771},{"s":"CR","x":927,"y":772},{"s":"CR","x":930,"y":770},{"s":"CR","x":934,"y":767},{"s":"CR","x":938,"y":765},{"s":"CR","x":942,"y":764}
],
"sim": [
{"x":33,"y":242},{"x":45,"y":242},{"x":57,"y":242},{"x":69,"y":242},{"x":81,"y":241},{"x":93,"y":240},{"x":105,"y":238},{"x":113,"y":236},{"x":121,"y":233},{"x":129,"y":229},{"x":137,"y":226},{"x":145,"y":222},{"x":153,"y":219},{"x":159,"y":217},{"x":165,"y":217},{"x":171,"y":218},{"x":177,"y":219},{"x":183,"y":221},{"x":189,"y":223},{"x":195,"y":224},{"x":201,"y":225},{"x":207,"y":225},{"x":213,"y":225},{"x":219,"y":224},{"x":225,"y":222},{"x":231,"y":219},{"x":237,"y":215},{"x":243,"y":210},{"x":249,"y":204},{"x":255,"y":196},{"x":261,"y":187},{"x":265,"y":180},{"x":269,"y":173},{"x":272,"y":169},{"x":275,"y":167},{"x":278,"y":168},{"x":281,"y":172},{"x":284,"y":179},{"x":287,"y":188},{"x":290,"y":197},{"x":293,"y":205},{"x":296,"y":213},{"x":299,"y":223},{"x":302,"y":235},{"x":305,"y":246},{"x":309,"y":256},{"x":313,"y":261},{"x":317,"y":263},{"x":321,"y":263},{"x":325,"y":261},{"x":329,"y":257},{"x":333,"y":250},{"x":337,"y":242},{"x":341,"y":233},{"x":345,"y":225},{"x":349,"y":217},{"x":353,"y":210},{"x":357,"y":203},{"x":361,"y":197},{"x":365,"y":191},{"x":369,"y":185},{"x":373,"y":179},{"x":377,"y":173},{"x":381,"y":166},{"x":385,"y":158},{"x":389,"y":149},{"x":392,"y":145},{"x":395,"y":143},{"x":398,"y":147},{"x":401,"y":155},{"x":404,"y":163},{"x":407,"y":169},{"x":410,"y":170},{"x":413,"y":167},{"x":416,"y":159},{"x":419,"y":149},{"x":422,"y":140},{"x":425,"y":135},{"x":428,"y":135},{"x":431,"y":140},{"x":434,"y":151},{"x":437,"y":166},{"x":440,"y":180},{"x":443,"y":191},{"x":446,"y":197},{"x":449,"y":195},{"x":452,"y":185},{"x":455,"y":172},{"x":457,"y":165},{"x":459,"y":163},{"x":461,"y":166},{"x":463,"y":178},{"x":465,"y":197},{"x":467,"y":220},{"x":469,"y":243},{"x":471,"y":263},{"x":473,"y":280},{"x":475,"y":292},{"x":477,"y":299},{"x":479,"y":300},{"x":481,"y":296},{"x":483,"y":285},{"x":485,"y":268},{"x":487,"y":254},{"x":489,"y":244},{"x":491,"y":239},{"x":493,"y":238},{"x":495,"y":240},{"x":497,"y":248},{"x":499,"y":262},{"x":501,"y":282},{"x":503,"y":305},{"x":505,"y":326},{"x":507,"y":342},{"x":509,"y":351},{"x":511,"y":355},{"x":513,"y":355},{"x":515,"y":350},{"x":517,"y":340},{"x":519,"y":326},{"x":521,"y":314},{"x":523,"y":306},{"x":525,"y":301},{"x":527,"y":300},{"x":529,"y":302},{"x":531,"y":310},{"x":533,"y":322},{"x":535,"y":337},{"x":537,"y":352},{"x":539,"y":363},{"x":541,"y":370},{"x":543,"y":373},{"x":545,"y":374},{"x":547,"y":373},{"x":549,"y":369},{"x":551,"y":360},{"x":553,"y":348},{"x":555,"y":337},{"x":557,"y":329},{"x":559,"y":324},{"x":561,"y":322},{"x":563,"y":322},{"x":565,"y":323},{"x":567,"y":325},{"x":569,"y":329},{"x":571,"y":333},{"x":573,"y":336},{"x":575,"y":337},{"x":577,"y":337},{"x":579,"y":335},{"x":581,"y":330},{"x":583,"y":322},{"x":585,"y":313},{"x":587,"y":304},{"x":590,"y":294},{"x":594,"y":284},{"x":598,"y":276},{"x":602,"y":268},{"x":606,"y":261},{"x":610,"y":255},{"x":614,"y":248},{"x":618,"y":241},{"x":622,"y":233},{"x":625,"y":228},{"x":628,"y":226},{"x":631,"y":228},{"x":634,"y":235},{"x":637,"y":245},{"x":640,"y":256},{"x":643,"y":268},{"x":646,"y":279},{"x":649,"y":289},{"x":652,"y":296},{"x":655,"y":300},{"x":658,"y":302},{"x":661,"y":303},{"x":664,"y":303},{"x":667,"y":302},{"x":670,"y":300},{"x":673,"y":296},{"x":676,"y":291},{"x":680,"y":284},{"x":684,"y":277},{"x":688,"y":271},{"x":692,"y":266},{"x":697,"y":262},{"x":702,"y":259},{"x":708,"y":257},{"x":715,"y":255},{"x":725,"y":254},{"x":740,"y":253},{"x":755,"y":253},{"x":770,"y":253},{"x":785,"y":254},{"x":797,"y":256},{"x":805,"y":257},{"x":812,"y":258},{"x":820,"y":257},{"x":828,"y":255},{"x":836,"y":253},{"x":845,"y":250},{"x":855,"y":247},{"x":865,"y":245},{"x":877,"y":243},{"x":890,"y":242},{"x":905,"y":242},{"x":917,"y":242}
],
"solid": [{"x":163,"x2":163,"y":205,"y2":272},{"x":297,"x2":297,"y":57,"y2":240},{"x":644,"x2":644,"y":57,"y2":318},{"x":811,"x2":811,"y":257,"y2":326}],
"dashed": [{"x":163,"x2":162,"y":345,"y2":818},{"x":294,"x2":292,"y":330,"y2":785},{"x":644,"x2":643,"y":322,"y2":855},{"x":810,"x2":808,"y":330,"y2":872}],
"arrows": [{"x":305,"x2":400,"y":75,"y2":75},{"x":523,"x2":636,"y":81,"y2":81},{"x":245,"x2":288,"y":227,"y2":227},{"x":172,"x2":220,"y":252,"y2":252},{"x":656,"x2":712,"y":270,"y2":270},{"x":748,"x2":801,"y":295,"y2":295},{"x":442,"x2":470,"y":996,"y2":996},{"x":482,"x2":510,"y":996,"y2":996}],
"headsL": [{"x":306,"y":75},{"x":172,"y":252},{"x":656,"y":270},{"x":442,"y":996}],
"headsR": [{"x":636,"y":81},{"x":289,"y":227},{"x":801,"y":295},{"x":509,"y":996}],
"marks": [{"x":428,"y":998},{"x":476,"y":998},{"x":523,"y":998}],
"labels": [
{"r":"title","t":"Azido-DhL","x":40,"y":97},{"r":"title","t":"7.5 M LiBr/D","x":40,"y":137},{"r":"title","t":"O","x":213,"y":137},
{"r":"titlesub","t":"2","x":203,"y":144},
{"r":"panel","t":"A","x":87,"y":195},{"r":"panel","t":"B","x":86,"y":472},{"r":"panel","t":"C","x":87,"y":713},
{"r":"radical","t":"π-Aminyl radical","x":695,"y":160},
{"r":"temp","t":"77 K","x":858,"y":295},{"r":"temp","t":"145 K","x":850,"y":557},{"r":"temp","t":"150 K","x":853,"y":832},
{"r":"sim","t":"SIM","x":27,"y":318},{"r":"sim","t":"DHL-CH•-N","x":110,"y":318},{"r":"sim","t":"(10)","x":285,"y":318},{"r":"sim","t":"+DHL-ND• (11)","x":27,"y":357},
{"r":"simsub","t":"3","x":258,"y":326},
{"r":"ital","t":"A","x":226,"y":255},{"r":"ital","t":"A","x":712,"y":295},{"r":"ital","t":"a","x":415,"y":80},{"r":"ital","t":"a","x":469,"y":80},
{"r":"plus","t":"+","x":456,"y":81},
{"r":"sub","t":"N","x":240,"y":257},{"r":"sub","t":"N","x":726,"y":298},{"r":"sub","t":"βH1","x":427,"y":86},{"r":"sub","t":"βH2","x":481,"y":86},
{"r":"scale","t":"26.18 G","x":473,"y":982}
]
},
"encoding": {
"x": {"field":"x","type":"quantitative","scale":{"domain":[0,954],"nice":false,"zero":false},"axis":null},
"y": {"field":"y","type":"quantitative","scale":{"domain":[0,1017],"nice":false,"zero":false,"reverse":true},"axis":null}
},
"layer": [
{"data":{"name":"frame"},"mark":{"type":"rule","color":"#D9D9D9","strokeWidth":2},"encoding":{"x2":{"field":"x2"},"y2":{"field":"y2"}}},
{"data":{"name":"dashed"},"mark":{"type":"rule","color":"black","strokeWidth":3.5,"strokeDash":[17,8]},"encoding":{"x2":{"field":"x2"},"y2":{"field":"y2"}}},
{"data":{"name":"curves"},"mark":{"type":"line","color":"#FF0000","strokeWidth":3,"interpolate":"monotone"},"encoding":{"detail":{"field":"s"}}},
{"data":{"name":"sim"},"mark":{"type":"line","color":"#8E3AB4","strokeWidth":3,"interpolate":"monotone"},"encoding":{}},
{"data":{"name":"solid"},"mark":{"type":"rule","color":"black","strokeWidth":3},"encoding":{"x2":{"field":"x2"},"y2":{"field":"y2"}}},
{"data":{"name":"arrows"},"mark":{"type":"rule","color":"black","strokeWidth":2.5},"encoding":{"x2":{"field":"x2"},"y2":{"field":"y2"}}},
{"data":{"name":"headsL"},"mark":{"type":"point","shape":"triangle-left","filled":true,"color":"black","opacity":1,"size":150},"encoding":{}},
{"data":{"name":"headsR"},"mark":{"type":"point","shape":"triangle-right","filled":true,"color":"black","opacity":1,"size":150},"encoding":{}},
{"data":{"name":"marks"},"mark":{"type":"point","shape":"triangle-up","filled":true,"color":"#FFC000","opacity":1,"size":170},"encoding":{}},
{"data":{"name":"labels"},"transform":[{"filter":"datum.r==='title'"}],"mark":{"type":"text","align":"left","baseline":"alphabetic","font":"Liberation Sans","fontWeight":"bold","fontSize":28,"color":"#FF0000"},"encoding":{"text":{"field":"t"}}},
{"data":{"name":"labels"},"transform":[{"filter":"datum.r==='titlesub'"}],"mark":{"type":"text","align":"left","baseline":"alphabetic","font":"Liberation Sans","fontWeight":"bold","fontSize":17,"color":"#FF0000"},"encoding":{"text":{"field":"t"}}},
{"data":{"name":"labels"},"transform":[{"filter":"datum.r==='panel'"}],"mark":{"type":"text","align":"center","baseline":"alphabetic","font":"Liberation Sans","fontWeight":"bold","fontSize":24,"color":"black"},"encoding":{"text":{"field":"t"}}},
{"data":{"name":"labels"},"transform":[{"filter":"datum.r==='radical'"}],"mark":{"type":"text","align":"left","baseline":"alphabetic","font":"Liberation Sans","fontWeight":"bold","fontSize":28,"color":"black"},"encoding":{"text":{"field":"t"}}},
{"data":{"name":"labels"},"transform":[{"filter":"datum.r==='temp'"}],"mark":{"type":"text","align":"left","baseline":"alphabetic","font":"Liberation Sans","fontWeight":"bold","fontSize":27,"color":"#FF0000"},"encoding":{"text":{"field":"t"}}},
{"data":{"name":"labels"},"transform":[{"filter":"datum.r==='sim'"}],"mark":{"type":"text","align":"left","baseline":"alphabetic","font":"Liberation Sans","fontWeight":"bold","fontSize":28,"color":"#8E3AB4"},"encoding":{"text":{"field":"t"}}},
{"data":{"name":"labels"},"transform":[{"filter":"datum.r==='simsub'"}],"mark":{"type":"text","align":"left","baseline":"alphabetic","font":"Liberation Sans","fontWeight":"bold","fontSize":17,"color":"#8E3AB4"},"encoding":{"text":{"field":"t"}}},
{"data":{"name":"labels"},"transform":[{"filter":"datum.r==='ital'"}],"mark":{"type":"text","align":"left","baseline":"alphabetic","font":"Liberation Sans","fontStyle":"italic","fontSize":21,"color":"black"},"encoding":{"text":{"field":"t"}}},
{"data":{"name":"labels"},"transform":[{"filter":"datum.r==='plus'"}],"mark":{"type":"text","align":"left","baseline":"alphabetic","font":"Liberation Sans","fontSize":20,"color":"black"},"encoding":{"text":{"field":"t"}}},
{"data":{"name":"labels"},"transform":[{"filter":"datum.r==='sub'"}],"mark":{"type":"text","align":"left","baseline":"alphabetic","font":"Liberation Sans","fontSize":15,"color":"black"},"encoding":{"text":{"field":"t"}}},
{"data":{"name":"labels"},"transform":[{"filter":"datum.r==='scale'"}],"mark":{"type":"text","align":"center","baseline":"alphabetic","font":"Liberation Sans","fontSize":22,"color":"black"},"encoding":{"text":{"field":"t"}}}
]
}
